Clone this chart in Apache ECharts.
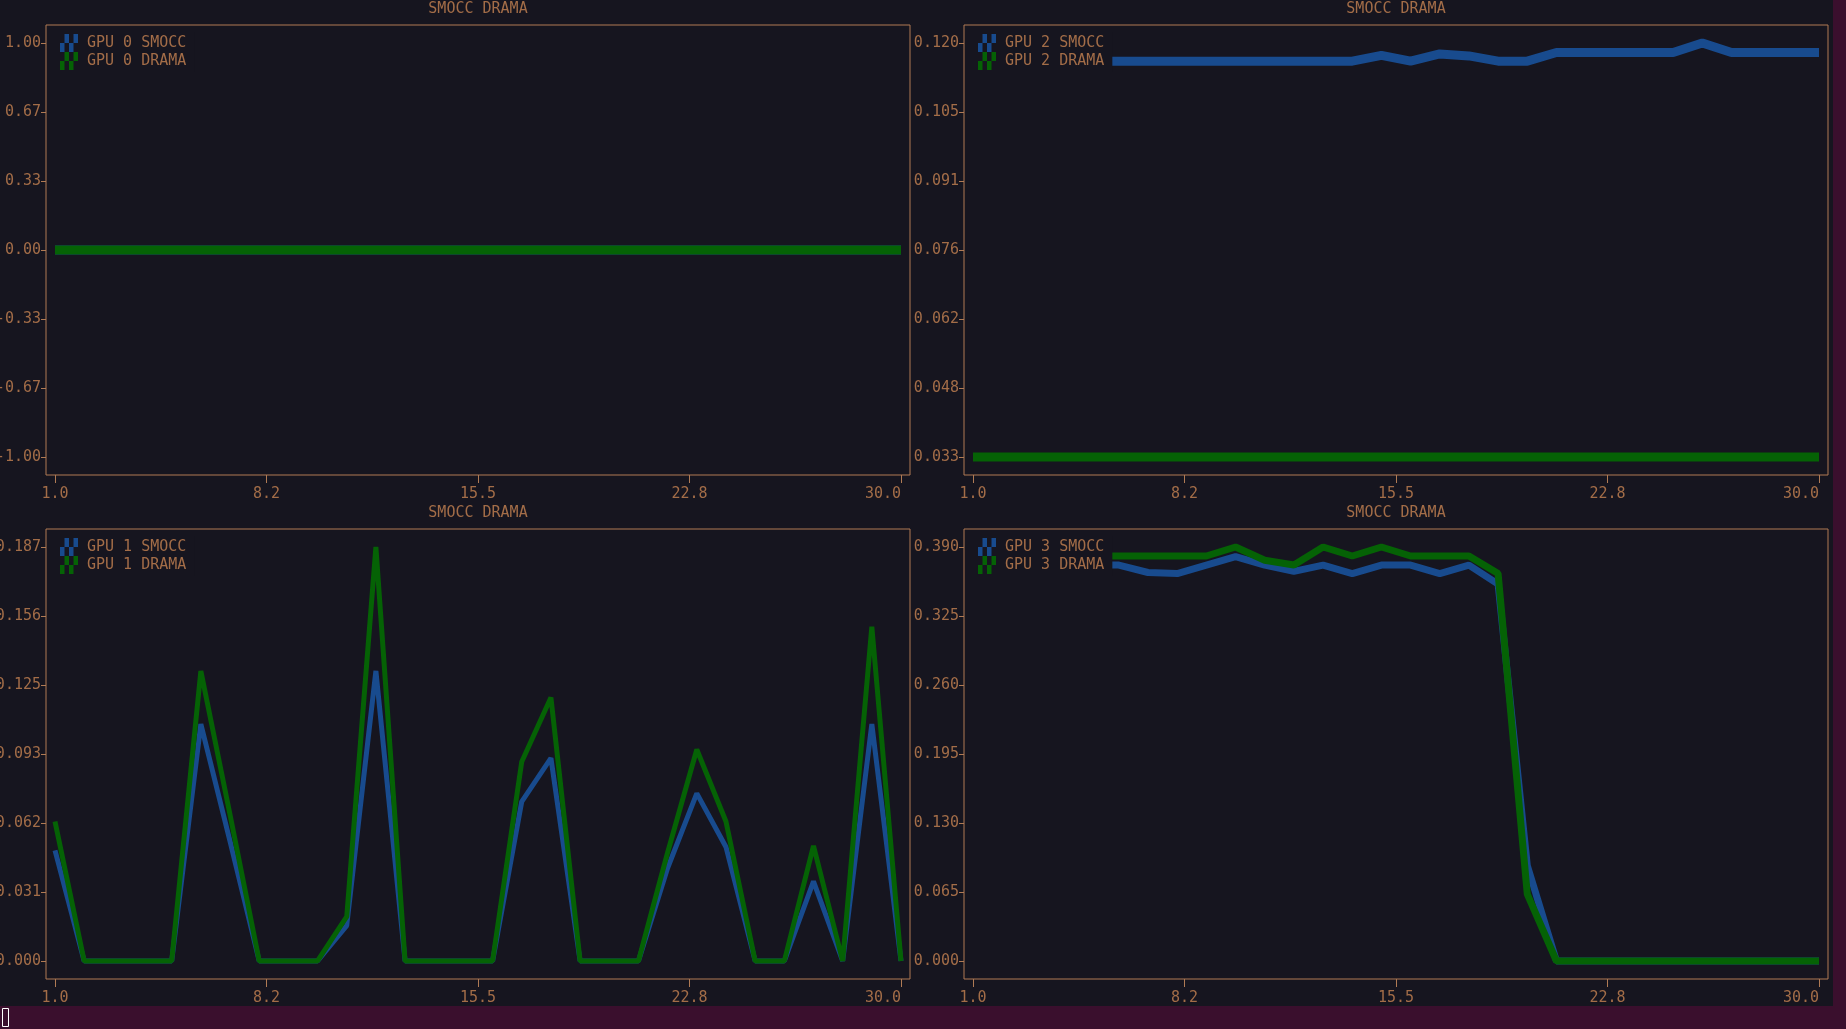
<!DOCTYPE html>
<html>
<head>
<meta charset="utf-8">
<title>SMOCC DRAMA</title>
<script src="https://cdn.jsdelivr.net/npm/echarts@6/dist/echarts.min.js"></script>
<style>
	html, body { margin: 0; padding: 0; background: #16151f; }
	#main { width: 1846px; height: 1029px; }
</style>
</head>
<body>
<div id="main"></div>
<script>
// x = step 1..30
var steps = [1,2,3,4,5,6,7,8,9,10,11,12,13,14,15,16,17,18,19,20,21,22,23,24,25,26,27,28,29,30];
var xTicks = [1, 8.25, 15.5, 22.75, 30];
var xTickLabels = ['1.0', '8.2', '15.5', '22.8', '30.0'];

// y tick values per panel
var gpu0Ticks = [-1, -0.6667, -0.3333, 0, 0.3333, 0.6667, 1];
var gpu1Ticks = [0, 0.031158, 0.062317, 0.093475, 0.124633, 0.155792, 0.18695];
var gpu2Ticks = [0.0331, 0.04755, 0.062, 0.07645, 0.0909, 0.10535, 0.1198];
var gpu3Ticks = [0, 0.065, 0.13, 0.195, 0.26, 0.325, 0.39];

var gpu0Smocc = [0,0,0,0,0,0,0,0,0,0,0,0,0,0,0,0,0,0,0,0,0,0,0,0,0,0,0,0,0,0];
var gpu0Drama = [0,0,0,0,0,0,0,0,0,0,0,0,0,0,0,0,0,0,0,0,0,0,0,0,0,0,0,0,0,0];

var gpu1Smocc = [0.050,0,0,0,0,0.107,0.054,0,0,0,0.016,0.131,0,0,0,0,0.072,0.0916,0,0,0,0.042,0.0757,0.0515,0,0,0.036,0,0.107,0];
var gpu1Drama = [0.063,0,0,0,0,0.131,0.066,0,0,0,0.020,0.18695,0,0,0,0,0.090,0.119,0,0,0,0.049,0.0955,0.063,0,0,0.052,0,0.151,0];

var gpu2Smocc = [0.1160,0.1160,0.1160,0.1160,0.1160,0.1160,0.1160,0.1160,0.1160,0.1160,0.1160,0.1160,0.1160,0.1160,0.1172,
	0.1160,0.1175,0.1171,0.1160,0.1160,0.1178,0.1178,0.1178,0.1178,0.1178,0.1198,0.1178,0.1178,0.1178,0.1178];
var gpu2Drama = [0.0331,0.0331,0.0331,0.0331,0.0331,0.0331,0.0331,0.0331,0.0331,0.0331,0.0331,0.0331,0.0331,0.0331,0.0331,
	0.0331,0.0331,0.0331,0.0331,0.0331,0.0331,0.0331,0.0331,0.0331,0.0331,0.0331,0.0331,0.0331,0.0331,0.0331];

var gpu3Smocc = [0.373,0.373,0.373,0.373,0.373,0.373,0.366,0.365,0.373,0.381,0.373,0.367,0.373,0.365,0.373,
	0.373,0.365,0.373,0.355,0.090,0,0,0,0,0,0,0,0,0,0];
var gpu3Drama = [0.3815,0.3815,0.3815,0.3815,0.3815,0.3815,0.3815,0.3815,0.3815,0.390,0.3775,0.373,0.390,0.3815,0.390,
	0.3815,0.3815,0.3815,0.365,0.063,0,0,0,0,0,0,0,0,0,0];

var bg = '#16151f';
var fg = '#a36d48';
var frame = '#b07b55';
var blue = '#184b8e';
var green = '#056205';
var mono = 'DejaVu Sans Mono';
var checker = 'path://M1,0H2V2H1ZM3,0H4V2H3ZM0,2H1V4H0ZM2,2H3V4H2Z';

var panels = [
	{ gpu: 0, smocc: gpu0Smocc, drama: gpu0Drama, ticks: gpu0Ticks, digits: 2, left: 46, top: 25, width: 9 },
	{ gpu: 2, smocc: gpu2Smocc, drama: gpu2Drama, ticks: gpu2Ticks, digits: 3, left: 964, top: 25, width: 9 },
	{ gpu: 1, smocc: gpu1Smocc, drama: gpu1Drama, ticks: gpu1Ticks, digits: 3, left: 46, top: 529, width: 5 },
	{ gpu: 3, smocc: gpu3Smocc, drama: gpu3Drama, ticks: gpu3Ticks, digits: 3, left: 964, top: 529, width: 7 }
];

function pairs(vals) {
	return steps.map(function (x, i) { return [x, vals[i]]; });
}

window.onload = function () {
	var myChart = echarts.init(document.getElementById('main'));
	var xPad = 0.3085;

	var grids = [], xAxes = [], yAxes = [], series = [], legends = [], titles = [];

	panels.forEach(function (p, i) {
		var t0 = p.ticks[0], t1 = p.ticks[p.ticks.length - 1];
		var yPad = (t1 - t0) * 0.0435;

		grids.push({
			left: p.left, top: p.top, width: 864, height: 450,
			outerBoundsMode: 'none',
			containLabel: false,
			show: true, borderColor: frame, borderWidth: 1, backgroundColor: 'transparent'
		});

		titles.push({
			text: 'SMOCC DRAMA',
			left: p.left + 432,
			top: p.top - 23,
			textAlign: 'center',
			padding: 0,
			textStyle: { color: fg, fontFamily: mono, fontSize: 15, fontWeight: 'normal' }
		});

		xAxes.push({
			gridIndex: i,
			type: 'value',
			min: 1 - xPad,
			max: 30 + xPad,
			axisLine: { show: false, onZero: false },
			splitLine: { show: false },
			axisTick: { show: true, length: 8, customValues: xTicks, lineStyle: { color: frame } },
			axisLabel: {
				customValues: xTicks,
				color: fg, fontFamily: mono, fontSize: 15, margin: 12,
				alignMaxLabel: 'right',
				formatter: function (v) {
					var k = 0;
					xTicks.forEach(function (t, j) { if (Math.abs(t - v) < Math.abs(xTicks[k] - v)) k = j; });
					return xTickLabels[k];
				}
			}
		});

		yAxes.push({
			gridIndex: i,
			type: 'value',
			min: t0 - yPad,
			max: t1 + yPad,
			axisLine: { show: false, onZero: false },
			splitLine: { show: false },
			axisTick: { show: true, length: 5, customValues: p.ticks, lineStyle: { color: frame } },
			axisLabel: {
				customValues: p.ticks,
				color: fg, fontFamily: mono, fontSize: 15, margin: 5,
				formatter: function (v) { return v.toFixed(p.digits); }
			}
		});

		var sName = 'GPU ' + p.gpu + ' SMOCC';
		var dName = 'GPU ' + p.gpu + ' DRAMA';

		series.push({
			name: sName, type: 'line', xAxisIndex: i, yAxisIndex: i,
			color: blue, symbol: 'none', showSymbol: false,
			lineStyle: { color: blue, width: p.width },
			data: pairs(p.smocc)
		});
		series.push({
			name: dName, type: 'line', xAxisIndex: i, yAxisIndex: i,
			color: green, symbol: 'none', showSymbol: false,
			lineStyle: { color: green, width: p.width },
			data: pairs(p.drama)
		});

		legends.push({
			data: [sName, dName],
			left: p.left + 1,
			top: p.top + 7,
			orient: 'vertical',
			itemGap: 0,
			itemWidth: 18,
			itemHeight: 18,
			icon: checker,
			selectedMode: false,
			padding: [2, 8, 2, 13],
			backgroundColor: bg,
			textStyle: { color: fg, fontFamily: mono, fontSize: 15, padding: [0, 0, 0, 4] }
		});
	});

	option = {
		backgroundColor: bg,
		animation: false,
		title: titles,
		grid: grids,
		xAxis: xAxes,
		yAxis: yAxes,
		legend: legends,
		series: series,
		graphic: [
			{ type: 'rect', left: 1833, top: 0, shape: { width: 13, height: 1006 }, style: { fill: '#3a0f2d' }, silent: true },
			{ type: 'rect', left: 0, top: 1006, shape: { width: 1846, height: 23 }, style: { fill: '#3a0f2d' }, silent: true },
			{ type: 'rect', left: 0, top: 1006, shape: { x: 0.5, y: 0.5, width: 6, height: 18 }, style: { fill: 'none', stroke: '#ffffff', lineWidth: 1 }, silent: true }
		]
	};

	myChart.setOption(option);
};
</script>
</body>
</html>
